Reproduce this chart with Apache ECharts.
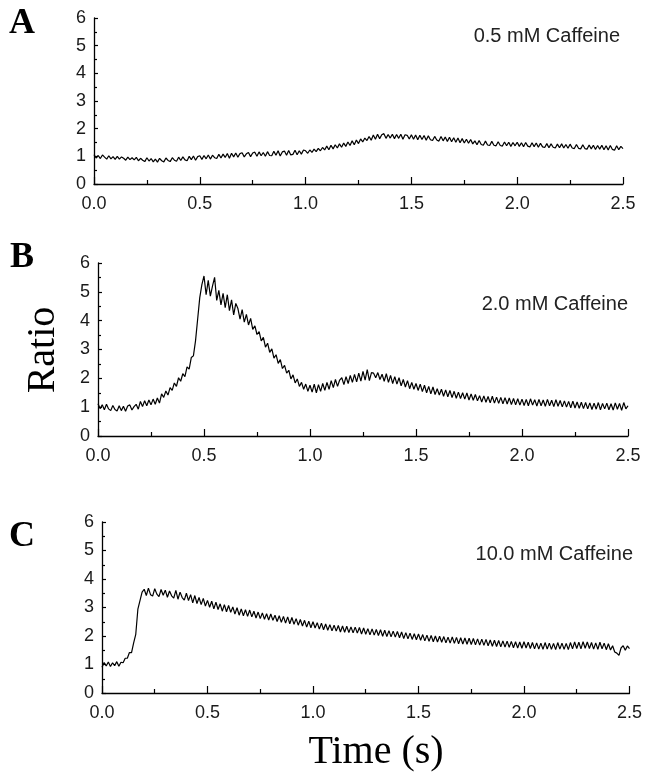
<!DOCTYPE html>
<html>
<head>
<meta charset="utf-8">
<script src="https://cdn.jsdelivr.net/npm/echarts@6/dist/echarts.min.js"></script>
<style>
  html, body { margin: 0; padding: 0; background: #fff; }
  #chart { width: 645px; height: 778px; }
</style>
</head>
<body>
<div id="chart"></div>
<script>
//****** 数据 ******//
// sampling step of the traces (s), one row = 0.1 s
var STEP = 0.01;

// A: 0.5 mM caffeine
var ratio_A = [
  1.06, 0.94, 1.03, 0.92, 1.05, 0.97, 0.90, 1.02, 0.91, 0.99,
  0.89, 1.00, 0.90, 0.98, 0.93, 0.86, 0.97, 0.88, 0.95, 0.87,
  0.96, 0.84, 0.93, 0.86, 0.81, 0.95, 0.83, 0.92, 0.80, 0.90,
  0.79, 0.93, 0.84, 0.80, 0.94, 0.85, 0.81, 0.95, 0.86, 0.82,
  0.97, 0.85, 0.98, 0.87, 0.84, 1.00, 0.88, 1.01, 0.86, 0.99,
  1.02, 0.89, 1.03, 0.91, 1.05, 0.90, 1.04, 0.95, 0.92, 1.07,
  0.94, 1.08, 0.96, 1.10, 0.93, 1.11, 0.98, 1.12, 0.97, 1.10,
  1.13, 0.98, 1.09, 1.14, 0.99, 1.12, 1.15, 1.00, 1.16, 1.02,
  1.14, 1.00, 1.17, 1.03, 1.02, 1.18, 1.04, 1.20, 1.01, 1.16,
  1.19, 1.04, 1.21, 1.05, 1.07, 1.22, 1.06, 1.20, 1.08, 1.23,
  1.20, 1.11, 1.23, 1.14, 1.26, 1.17, 1.29, 1.20, 1.32, 1.23,
  1.37, 1.24, 1.40, 1.27, 1.42, 1.30, 1.45, 1.33, 1.48, 1.36,
  1.52, 1.39, 1.56, 1.42, 1.59, 1.46, 1.63, 1.52, 1.66, 1.57,
  1.72, 1.58, 1.77, 1.62, 1.80, 1.64, 1.78, 1.82, 1.65, 1.79,
  1.66, 1.80, 1.64, 1.79, 1.65, 1.80, 1.62, 1.78, 1.76, 1.63,
  1.78, 1.62, 1.77, 1.60, 1.76, 1.61, 1.75, 1.58, 1.74, 1.60,
  1.57, 1.72, 1.59, 1.55, 1.72, 1.56, 1.70, 1.54, 1.69, 1.53,
  1.67, 1.51, 1.66, 1.49, 1.64, 1.48, 1.62, 1.47, 1.61, 1.45,
  1.56, 1.42, 1.57, 1.43, 1.40, 1.55, 1.41, 1.39, 1.54, 1.40,
  1.38, 1.53, 1.39, 1.37, 1.52, 1.38, 1.51, 1.36, 1.50, 1.38,
  1.51, 1.36, 1.49, 1.35, 1.50, 1.37, 1.34, 1.49, 1.35, 1.48,
  1.33, 1.47, 1.34, 1.32, 1.46, 1.31, 1.45, 1.33, 1.30, 1.44,
  1.31, 1.45, 1.30, 1.43, 1.29, 1.44, 1.30, 1.28, 1.43, 1.29,
  1.27, 1.42, 1.28, 1.26, 1.41, 1.27, 1.40, 1.25, 1.39, 1.26,
  1.40, 1.24, 1.38, 1.23, 1.39, 1.25, 1.22, 1.38, 1.24, 1.36,
  1.28
];

// B: 2.0 mM caffeine
var ratio_B = [
  1.12, 0.95, 1.08, 0.91, 1.10, 0.94, 0.88, 1.06, 0.92, 0.87,
  1.05, 0.88, 1.03, 0.86, 1.04, 1.08, 0.90, 1.02, 1.10, 0.93,
  1.20, 1.02, 1.22, 1.05, 1.25, 1.08, 1.28, 1.10, 1.32, 1.14,
  1.46, 1.34, 1.56, 1.42, 1.68, 1.58, 1.84, 1.72, 2.02, 1.90,
  2.16, 2.06, 2.40, 2.32, 2.72, 2.78, 3.30, 4.05, 4.80, 5.25,
  5.55, 4.90, 5.40, 4.85, 5.20, 5.50, 4.70, 5.05, 4.55, 4.95,
  4.45, 4.90, 4.35, 4.72, 4.20, 4.60, 4.42, 4.05, 4.38, 3.95,
  4.22, 3.85, 4.08, 3.70, 3.82, 3.52, 3.62, 3.30, 3.42, 3.08,
  3.22, 2.90, 3.02, 2.70, 2.82, 2.52, 2.65, 2.34, 2.45, 2.18,
  2.28, 1.98, 2.12, 1.84, 1.98, 1.72, 1.86, 1.62, 1.80, 1.55,
  1.76, 1.52, 1.80, 1.50, 1.78, 1.55, 1.82, 1.58, 1.86, 1.62,
  1.92, 1.68, 1.96, 1.72, 1.94, 2.02, 1.78, 2.06, 1.82, 2.10,
  1.86, 2.14, 1.88, 2.18, 1.90, 2.24, 1.94, 2.30, 1.92, 2.20,
  2.18, 2.02, 2.20, 1.96, 2.14, 1.90, 2.16, 1.86, 2.10, 1.82,
  2.06, 1.80, 2.02, 1.74, 1.96, 1.70, 1.92, 1.64, 1.86, 1.62,
  1.82, 1.58, 1.80, 1.54, 1.76, 1.50, 1.72, 1.46, 1.70, 1.44,
  1.64, 1.42, 1.62, 1.38, 1.60, 1.36, 1.58, 1.33, 1.55, 1.31,
  1.52, 1.30, 1.50, 1.28, 1.49, 1.25, 1.46, 1.24, 1.44, 1.22,
  1.40, 1.18, 1.39, 1.17, 1.37, 1.15, 1.38, 1.14, 1.35, 1.13,
  1.34, 1.12, 1.33, 1.11, 1.32, 1.09, 1.30, 1.08, 1.29, 1.07,
  1.28, 1.06, 1.27, 1.05, 1.29, 1.07, 1.26, 1.04, 1.27, 1.05,
  1.25, 1.03, 1.27, 1.05, 1.24, 1.02, 1.26, 1.03, 1.23, 1.01,
  1.22, 1.00, 1.20, 0.98, 1.21, 0.97, 1.18, 0.96, 1.17, 0.95,
  1.16, 0.94, 1.15, 0.92, 1.14, 0.93, 1.16, 0.91, 1.13, 0.94,
  1.14, 0.91, 1.12, 0.90, 1.15, 0.93, 1.13, 0.89, 1.16, 0.94,
  1.05
];

// C: 10.0 mM caffeine
var ratio_C = [
  0.90, 1.07, 0.95, 1.09, 0.93, 1.06, 0.96, 1.10, 0.94, 1.08,
  1.06, 1.22, 1.22, 1.42, 1.42, 1.76, 2.06, 2.94, 3.24, 3.54,
  3.64, 3.42, 3.68, 3.45, 3.40, 3.66, 3.47, 3.38, 3.63, 3.43,
  3.61, 3.36, 3.58, 3.41, 3.33, 3.60, 3.29, 3.54, 3.35, 3.26,
  3.50, 3.24, 3.45, 3.16, 3.42, 3.14, 3.35, 3.10, 3.32, 3.05,
  3.25, 3.01, 3.22, 2.95, 3.19, 2.93, 3.13, 2.87, 3.10, 2.85,
  3.07, 2.83, 3.02, 2.77, 2.99, 2.73, 2.95, 2.71, 2.92, 2.69,
  2.91, 2.67, 2.87, 2.63, 2.84, 2.61, 2.81, 2.59, 2.78, 2.56,
  2.77, 2.55, 2.73, 2.51, 2.71, 2.48, 2.69, 2.45, 2.67, 2.43,
  2.65, 2.41, 2.61, 2.38, 2.58, 2.35, 2.55, 2.31, 2.52, 2.29,
  2.50, 2.28, 2.47, 2.24, 2.45, 2.22, 2.42, 2.20, 2.40, 2.18,
  2.38, 2.17, 2.37, 2.14, 2.35, 2.13, 2.34, 2.12, 2.32, 2.11,
  2.31, 2.10, 2.30, 2.07, 2.28, 2.06, 2.26, 2.04, 2.25, 2.03,
  2.23, 2.02, 2.22, 1.99, 2.20, 1.98, 2.19, 1.97, 2.17, 1.96,
  2.16, 1.94, 2.14, 1.91, 2.12, 1.90, 2.10, 1.88, 2.08, 1.87,
  2.07, 1.85, 2.05, 1.83, 2.03, 1.81, 2.02, 1.80, 2.00, 1.79,
  1.99, 1.78, 1.98, 1.76, 1.96, 1.75, 1.97, 1.74, 1.95, 1.73,
  1.94, 1.72, 1.93, 1.71, 1.92, 1.70, 1.91, 1.69, 1.90, 1.68,
  1.89, 1.67, 1.88, 1.66, 1.86, 1.64, 1.85, 1.63, 1.84, 1.62,
  1.83, 1.61, 1.82, 1.60, 1.81, 1.59, 1.80, 1.58, 1.79, 1.57,
  1.80, 1.58, 1.78, 1.56, 1.77, 1.55, 1.76, 1.54, 1.75, 1.53,
  1.77, 1.54, 1.75, 1.53, 1.74, 1.52, 1.77, 1.54, 1.75, 1.53,
  1.74, 1.52, 1.77, 1.55, 1.79, 1.56, 1.78, 1.55, 1.80, 1.57,
  1.79, 1.56, 1.77, 1.54, 1.76, 1.53, 1.78, 1.55, 1.75, 1.52,
  1.73, 1.51, 1.66, 1.44, 1.40, 1.32, 1.58, 1.66, 1.50, 1.65,
  1.56
];

var panel_letters = ["A", "B", "C"];
var panel_captions = ["0.5 mM Caffeine", "2.0 mM Caffeine", "10.0 mM Caffeine"];

//****** 布局 ******//
var grids = [
  { left: 94, right: 22, top: 18, height: 166 },
  { left: 98, right: 17, top: 263, height: 173 },
  { left: 102, right: 13, top: 522, height: 171 }
];
var letter_pos = [[22, 24], [22, 258], [22, 537]];
var caption_pos = [[620, 36], [628, 304], [633, 554]];

function toPairs(arr) {
  var out = [];
  for (var i = 0; i < arr.length; i++) {
    out.push([+(i * STEP).toFixed(2), arr[i]]);
  }
  return out;
}

var tickFont = { color: "#1a1a1a", fontFamily: "Liberation Sans", fontSize: 18 };

var xAxes = [];
var yAxes = [];
var series = [];
var graphics = [];
var traces = [ratio_A, ratio_B, ratio_C];

for (var k = 0; k < 3; k++) {
  xAxes.push({
    type: "value", gridIndex: k, min: 0, max: 2.5, interval: 0.5,
    axisLine: { show: true, onZero: false, lineStyle: { color: "#000", width: 1.3 } },
    axisTick: { show: true, inside: true, length: 7, lineStyle: { color: "#000", width: 1.2 } },
    minorTick: { show: true, splitNumber: 2, length: 4, lineStyle: { color: "#000", width: 1.2 } },
    splitLine: { show: false },
    axisLabel: Object.assign({ margin: 11, formatter: function (v) { return v.toFixed(1); } }, tickFont)
  });
  yAxes.push({
    type: "value", gridIndex: k, min: 0, max: 6, interval: 1,
    axisLine: { show: true, onZero: false, lineStyle: { color: "#000", width: 1.3 } },
    axisTick: { show: true, inside: true, length: 4, lineStyle: { color: "#000", width: 1.2 } },
    minorTick: { show: true, splitNumber: 2, length: 3, lineStyle: { color: "#000", width: 1.2 } },
    splitLine: { show: false },
    axisLabel: Object.assign({ margin: 8 }, tickFont)
  });
  series.push({
    type: "line", xAxisIndex: k, yAxisIndex: k,
    data: toPairs(traces[k]),
    showSymbol: false, smooth: false, sampling: null,
    lineStyle: { color: "#000", width: 1.2 }
  });
  graphics.push({
    type: "text", x: letter_pos[k][0], y: letter_pos[k][1],
    style: {
      text: panel_letters[k], fill: "#000", font: "bold 36px 'Liberation Serif'",
      textAlign: "center", textVerticalAlign: "middle"
    }
  });
  graphics.push({
    type: "text", x: caption_pos[k][0], y: caption_pos[k][1],
    style: {
      text: panel_captions[k], fill: "#222", font: "20px 'Liberation Sans'",
      textAlign: "right", textVerticalAlign: "middle"
    }
  });
}

graphics.push({
  type: "text", x: 43, y: 350, rotation: Math.PI / 2,
  style: {
    text: "Ratio", fill: "#000", font: "40px 'Liberation Serif'",
    textAlign: "center", textVerticalAlign: "middle"
  }
});
graphics.push({
  type: "text", x: 376, y: 752,
  style: {
    text: "Time (s)", fill: "#000", font: "40px 'Liberation Serif'",
    textAlign: "center", textVerticalAlign: "middle"
  }
});

var chart = echarts.init(document.getElementById("chart"));
chart.setOption({
  animation: false,
  backgroundColor: "#fff",
  grid: grids,
  xAxis: xAxes,
  yAxis: yAxes,
  series: series,
  graphic: graphics
});
</script>
</body>
</html>
